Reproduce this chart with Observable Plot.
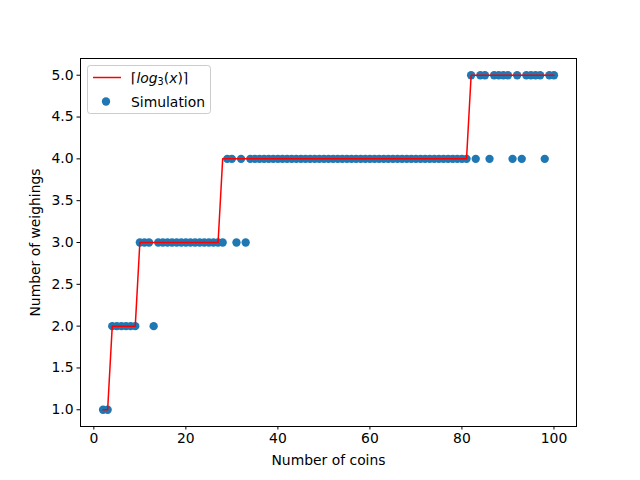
<!DOCTYPE html>
<html><head>
<meta charset="utf-8">
<script src="https://cdn.jsdelivr.net/npm/d3@7"></script>
<script src="https://cdn.jsdelivr.net/npm/@observablehq/plot@0.6"></script>
<style>body{margin:0;background:#fff}</style>
</head><body><div id="chart"></div>
<script>
const coins = [2,3,4,5,6,7,8,9,
  10,11,12,13,14,15,16,17,18,19,
  20,21,22,23,24,25,26,27,28,29,
  30,31,32,33,34,35,36,37,38,39,
  40,41,42,43,44,45,46,47,48,49,
  50,51,52,53,54,55,56,57,58,59,
  60,61,62,63,64,65,66,67,68,69,
  70,71,72,73,74,75,76,77,78,79,
  80,81,82,83,84,85,86,87,88,89,
  90,91,92,93,94,95,96,97,98,99,
  100];
const ceilLog3 = [1,1,2,2,2,2,2,2,
  3,3,3,3,3,3,3,3,3,3,
  3,3,3,3,3,3,3,3,4,4,
  4,4,4,4,4,4,4,4,4,4,
  4,4,4,4,4,4,4,4,4,4,
  4,4,4,4,4,4,4,4,4,4,
  4,4,4,4,4,4,4,4,4,4,
  4,4,4,4,4,4,4,4,4,4,
  4,4,5,5,5,5,5,5,5,5,
  5,5,5,5,5,5,5,5,5,5,
  5];
const simulation = [1,1,2,2,2,2,2,2,
  3,3,3,2,3,3,3,3,3,3,
  3,3,3,3,3,3,3,3,3,4,
  4,3,4,3,4,4,4,4,4,4,
  4,4,4,4,4,4,4,4,4,4,
  4,4,4,4,4,4,4,4,4,4,
  4,4,4,4,4,4,4,4,4,4,
  4,4,4,4,4,4,4,4,4,4,
  4,4,5,4,5,5,4,5,5,5,
  5,4,5,4,5,5,5,5,4,5,
  5];
const xTicks = [0,20,40,60,80,100];
const yTicks = [1.0,1.5,2.0,2.5,3.0,3.5,4.0,4.5,5.0];

const rows = coins.map((c, i) => ({coins: c, line: ceilLog3[i], sim: simulation[i]}));

const chart = Plot.plot({
  width: 640, height: 480,
  marginLeft: 80, marginRight: 64, marginTop: 58, marginBottom: 54,
  style: {fontFamily: "DejaVu Sans", fontSize: "13.9px", background: "#fff", color: "#000"},
  x: {domain: [-2.9, 104.9]},
  y: {domain: [0.8, 5.2]},
  marks: [
    Plot.dot(rows, {x: "coins", y: "sim", r: 4.17, fill: "#1f77b4", stroke: "none"}),
    Plot.line(rows, {x: "coins", y: "line", stroke: "#ff0000", strokeWidth: 1.5}),
    Plot.frame({stroke: "#000", strokeWidth: 1}),
    Plot.axisX({ticks: xTicks, tickSize: 3.5, tickPadding: 3.5, label: "Number of coins",
      labelAnchor: "center", labelArrow: "none", labelOffset: 38}),
    Plot.axisY({ticks: yTicks, tickFormat: d3.format(".1f"), tickSize: 3.5, tickPadding: 3.5,
      label: "Number of weighings", labelAnchor: "center", labelArrow: "none", labelOffset: 50})
  ]
});
document.getElementById("chart").appendChild(chart);

// Legend (upper left, inside axes)
const svg = d3.select(chart);
const lg = svg.append("g").attr("font-family", "DejaVu Sans").attr("font-size", "13.9px")
  .attr("text-anchor", "start");
lg.append("rect").attr("x", 87.5).attr("y", 65.5).attr("width", 123).attr("height", 48)
  .attr("rx", 2.8).attr("fill", "#fff").attr("fill-opacity", 0.8).attr("stroke", "#cccccc");
lg.append("line").attr("x1", 93).attr("x2", 121).attr("y1", 77.5).attr("y2", 77.5)
  .attr("stroke", "#ff0000").attr("stroke-width", 1.5);
const t1 = lg.append("text").attr("x", 131).attr("y", 82.5).attr("fill", "#000");
t1.append("tspan").text("⌈");
t1.append("tspan").attr("font-style", "italic").text("log");
t1.append("tspan").attr("font-size", "9.7px").attr("dy", 2.5).text("3");
t1.append("tspan").attr("dy", -2.5).text("(");
t1.append("tspan").attr("font-style", "italic").text("x");
t1.append("tspan").text(")⌉");
lg.append("circle").attr("cx", 106).attr("cy", 101.5).attr("r", 4.17).attr("fill", "#1f77b4");
lg.append("text").attr("x", 131).attr("y", 106.5).attr("fill", "#000").text("Simulation");
</script>
</body></html>
